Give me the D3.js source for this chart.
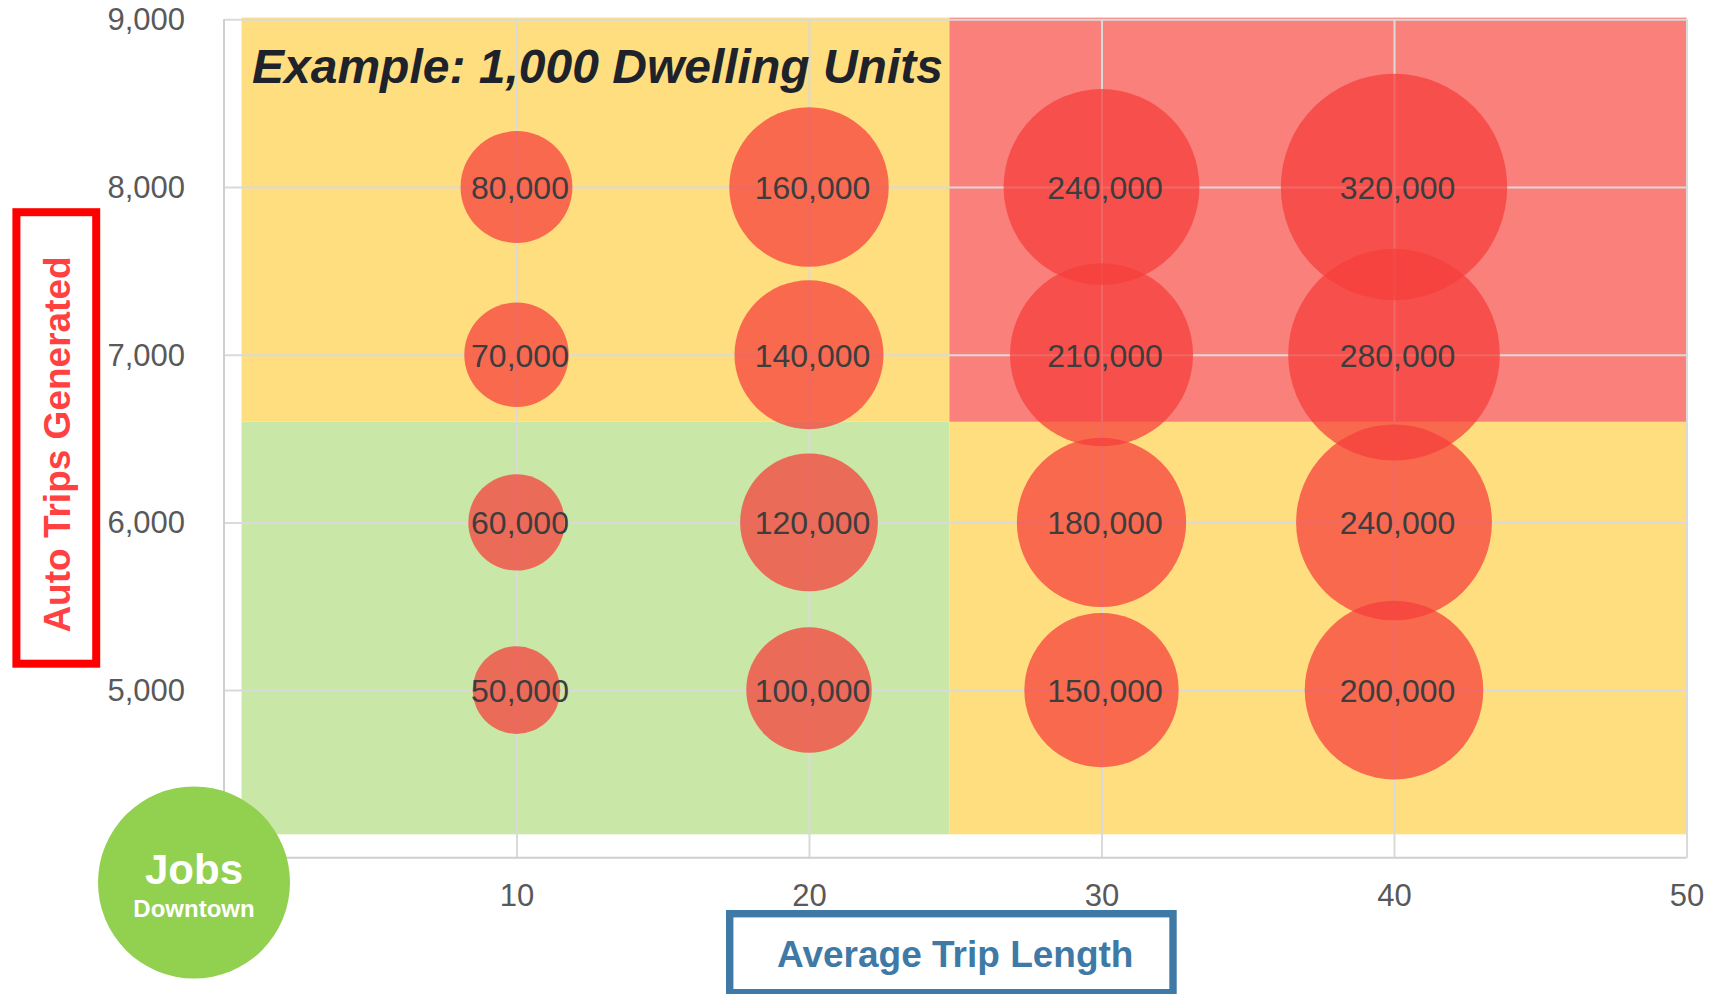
<!DOCTYPE html>
<html>
<head>
<meta charset="utf-8">
<script src="https://cdn.jsdelivr.net/npm/d3@7"></script>
<style>
  html, body { margin: 0; padding: 0; background: #ffffff; }
  svg { display: block; font-family: "Liberation Sans", Arial, sans-serif; }
</style>
</head>
<body>
<svg id="chart" width="1721" height="994"></svg>
<script>
// ---------------- data ----------------
const tripLengths = [10, 20, 30, 40];              // Average trip length (x)
const autoTrips   = [5000, 6000, 7000, 8000];       // Auto trips generated (y)
const vmtLen10 = [50000, 60000, 70000, 80000];
const vmtLen20 = [100000, 120000, 140000, 160000];
const vmtLen30 = [150000, 180000, 210000, 240000];
const vmtLen40 = [200000, 240000, 280000, 320000];
const xTicks = [10, 20, 30, 40, 50];
const yTicks = [5000, 6000, 7000, 8000, 9000];
const bandX = [0.6, 24.8, 50];      // zone boundaries on trip length
const bandY = [4140, 6600, 9010];   // zone boundaries on auto trips
const zoneNames = [["low-low", "low-high"], ["high-low", "high-high"]];
const titleText = "Example: 1,000 Dwelling Units";
const yTitle = "Auto Trips Generated";
const xTitle = "Average Trip Length";

// ---------------- layout ----------------
const svg = d3.select("#chart");
const x = d3.scaleLinear().domain([0, 50]).range([224, 1686.5]);
const y = d3.scaleLinear().domain([4000, 9000]).range([857.8, 19.3]);
const rArea = d3.scaleLinear().domain([50000, 320000]).range([43.8 * 43.8, 113.2 * 113.2]);
const radius = v => Math.sqrt(rArea(v));
const zoneColor = { "low-low": "#c9e7a7", "low-high": "#ffde80", "high-low": "#ffde80", "high-high": "#fa807c" };

// zones
const zones = [];
for (let i = 0; i < 2; i++) for (let j = 0; j < 2; j++) {
  zones.push({ x0: bandX[i], x1: bandX[i + 1], y0: bandY[j], y1: bandY[j + 1], name: zoneNames[i][j] });
}
svg.append("g").selectAll("rect").data(zones).join("rect")
  .attr("x", d => x(d.x0)).attr("width", d => x(d.x1) - x(d.x0))
  .attr("y", d => y(d.y1)).attr("height", d => y(d.y0) - y(d.y1))
  .attr("fill", d => zoneColor[d.name]);

// gridlines
const gridY = svg.append("g").attr("transform", `translate(${x(0)},0)`)
  .call(d3.axisLeft(y).tickValues(yTicks).tickSize(-(x(50) - x(0))).tickFormat(""));
const gridX = svg.append("g").attr("transform", `translate(0,${y(4000)})`)
  .call(d3.axisBottom(x).tickValues(xTicks).tickSize(-(y(4000) - y(9000))).tickFormat(""));
[gridX, gridY].forEach(g => {
  g.select(".domain").remove();
  g.selectAll("line").attr("stroke", "#dadada").attr("stroke-width", 2);
});

// frame lines (left and bottom)
svg.append("line").attr("x1", x(0)).attr("x2", x(0)).attr("y1", y(9000)).attr("y2", y(4000))
  .attr("stroke", "#cfcfcf").attr("stroke-width", 2);
svg.append("line").attr("x1", x(0)).attr("x2", x(50)).attr("y1", y(4000)).attr("y2", y(4000))
  .attr("stroke", "#cfcfcf").attr("stroke-width", 2);

// tick labels
const yAxis = svg.append("g").attr("transform", `translate(${x(0)},0)`)
  .call(d3.axisLeft(y).tickValues(yTicks).tickSize(0).tickPadding(39).tickFormat(d3.format(",")));
const xAxis = svg.append("g").attr("transform", `translate(0,${y(4000)})`)
  .call(d3.axisBottom(x).tickValues(xTicks).tickSize(0).tickPadding(26).tickFormat(d3.format("d")));
[xAxis, yAxis].forEach(g => {
  g.select(".domain").remove();
  g.selectAll("text").attr("fill", "#595959").style("font-size", "31px")
    .style("font-family", "'Liberation Sans', Arial, sans-serif");
});
yAxis.selectAll("text").attr("dy", "0.34em");

// bubbles
const series = [vmtLen10, vmtLen20, vmtLen30, vmtLen40];
const bubbles = [];
tripLengths.forEach((len, i) => {
  autoTrips.forEach((trips, j) => {
    bubbles.push({ len, trips, v: series[i][j] });
  });
});
svg.append("g").selectAll("circle").data(bubbles).join("circle")
  .attr("cx", d => x(d.len)).attr("cy", d => y(d.trips)).attr("r", d => radius(d.v))
  .attr("fill", "rgb(246,63,59)").attr("fill-opacity", 0.74);
svg.append("g").selectAll("text").data(bubbles).join("text")
  .attr("x", d => x(d.len) + 3.5).attr("y", d => y(d.trips)).attr("dy", "0.37em")
  .attr("text-anchor", "middle").attr("fill", "#3d3d3d").style("font-size", "32px")
  .text(d => d3.format(",")(d.v));

// title
svg.append("text").attr("x", 252).attr("y", 83)
  .attr("fill", "#1e232b").style("font-size", "48px").style("font-weight", "bold").style("font-style", "italic")
  .text(titleText);

// y axis title box
svg.append("rect").attr("x", 16.4).attr("y", 212.2).attr("width", 79.8).attr("height", 451.5)
  .attr("fill", "none").attr("stroke", "#ff0000").attr("stroke-width", 8);
svg.append("text").attr("transform", "translate(69.5,444.5) rotate(-90)")
  .attr("text-anchor", "middle").attr("fill", "#ff4141")
  .style("font-size", "37px").style("font-weight", "bold").text(yTitle);

// x axis title box
svg.append("rect").attr("x", 729.7).attr("y", 913.7).attr("width", 443.3).attr("height", 79)
  .attr("fill", "none").attr("stroke", "#3f79a6").attr("stroke-width", 7.4);
svg.append("text").attr("x", 955.3).attr("y", 966.5)
  .attr("text-anchor", "middle").attr("fill", "#3f79a6")
  .style("font-size", "37px").style("font-weight", "bold").text(xTitle);

// Jobs Downtown badge
const badge = svg.append("g").attr("transform", "translate(194,882.5)");
badge.append("circle").attr("r", 96).attr("fill", "#92d050");
badge.append("text").attr("y", 1).attr("text-anchor", "middle").attr("fill", "#ffffff")
  .style("font-size", "42px").style("font-weight", "bold").text("Jobs");
badge.append("text").attr("y", 34.5).attr("text-anchor", "middle").attr("fill", "#ffffff")
  .style("font-size", "24px").style("font-weight", "bold").text("Downtown");
</script>
</body>
</html>
